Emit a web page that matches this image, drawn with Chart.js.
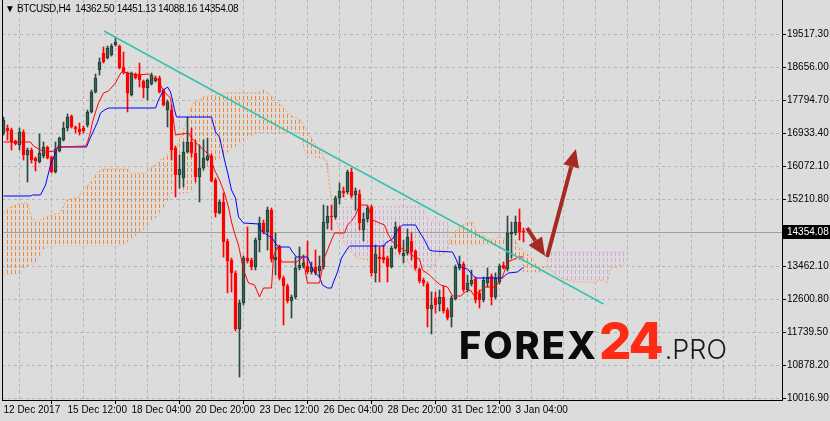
<!DOCTYPE html>
<html><head><meta charset="utf-8">
<script src="https://cdn.jsdelivr.net/npm/chart.js@4.4.0/dist/chart.umd.min.js"></script>
<style>
html,body{margin:0;padding:0;background:#DCDCDC;}
#wrap{position:relative;width:830px;height:421px;overflow:hidden;background:#DCDCDC;}
#c{position:absolute;left:0;top:0;}
#hdr{position:absolute;left:5px;top:3px;font:10px "Liberation Sans",Arial,sans-serif;letter-spacing:-0.35px;color:#000;white-space:pre;}
#logo{position:absolute;left:459px;top:315px;display:flex;align-items:baseline;white-space:nowrap;font-family:Inter,"Open Sans",sans-serif;line-height:1;}
#logo .f{font-size:38px;font-weight:800;color:#0c0c0c;letter-spacing:2px;}
#logo .n{font-size:51px;font-weight:800;color:#FF2B14;letter-spacing:-2px;margin-left:1px;}
#logo .p{font-size:27px;font-weight:300;color:#1a1a1a;margin-left:3px;}
</style></head>
<body>
<div id="wrap">
<canvas id="c" width="830" height="421"></canvas>
<div id="hdr"></div>
<div id="logo"><span class="f">FOREX</span><span class="n">24</span><span class="p">.PRO</span></div>
</div>
<script>
const symbolTitle = 'BTCUSD,H4';
const headerValues = [14362.50, 14451.13, 14088.16, 14354.08];
const tickLabels = ['12 Dec 2017','15 Dec 12:00','18 Dec 04:00','20 Dec 20:00','23 Dec 12:00','26 Dec 04:00','28 Dec 20:00','31 Dec 12:00','3 Jan 04:00'];
const priceTicks = [19517.30,18656.00,17794.70,16933.40,16072.10,15210.80,13462.10,12600.80,11739.50,10878.20,10016.90];
const lastClose = 14354.08;

const opens = [16934,17064,17012,16725,16620,16960,16359,16490,16281,16177,
16333,16568,16307,15916,16464,16751,17064,17377,17090,17038,
17064,17142,17482,18004,18578,19022,18891,18969,19230,19204,
18656,18500,17925,18474,18447,18291,18108,18213,18291,18369,
18056,17534,17534,16542,15837,15759,16438,16699,16412,15785,
16020,16229,16333,15707,14846,15133,14115,13619,13280,11818,
12497,13671,13619,13436,14141,14585,14350,14924,13619,13958,
13149,12940,12549,12653,13410,13462,13462,13306,13436,13332,
13436,14585,14767,14741,15237,15420,15394,15916,15316,15342,
14402,14689,15002,13280,13697,13697,13671,13436,13932,14454,
13723,13802,14115,13854,13384,13097,12992,12340,12627,12470,
12653,12314,12131,12601,13410,13515,12836,12992,13123,12758,
12575,13019,13201,12653,13045,13488,13384,14298,14324,14611,
14362.50];
const highs = [17351,17142,17064,16751,17064,17012,16542,16542,16307,16908,
16699,16594,16333,16699,16829,17221,17430,17404,17116,17195,
17116,17534,18056,18474,18891,19178,19204,19257,19439,19230,
19048,18526,18526,18500,18760,18317,18343,18500,18421,18421,
18082,17795,17664,16594,16359,16699,17351,17064,16751,16620,
16751,16803,16386,15759,15185,15368,14167,13671,13332,12575,
13723,14480,13671,14193,14741,14663,15002,14976,14324,14010,
13201,12992,12705,13697,13958,13749,14115,13567,13880,13723,
15054,15028,15054,15289,15629,15524,15968,16020,15498,15446,
14846,15028,15054,14010,13958,14010,13723,13984,14611,14506,
14141,14428,14324,13880,13410,13149,13045,12784,12784,12836,
12940,12366,12679,13488,13723,13567,13227,13358,13175,12836,
13175,13410,13254,13280,13515,13567,14767,14611,14767,14950,
14451.13];
const lows = [16881,16751,16490,16620,16490,16229,15655,16151,15942,16151,
16281,16255,15890,15890,16438,16725,16986,17064,16934,16881,
16934,17090,17456,17978,18447,18760,18865,18943,19204,18604,
18474,17482,17899,18343,18134,17847,17795,18186,18265,17978,
17638,17090,16229,15263,15498,15524,16412,16307,15655,15133,
15968,16203,15655,14741,14820,13697,12758,12784,11766,10565,
12444,13541,13358,13358,13828,14298,13880,13567,13227,13097,
11922,12497,12105,12601,13358,13410,13254,13254,13227,13175,
13384,14428,14402,14689,15081,15263,15342,15237,14924,14402,
14115,14611,13201,13045,13045,13541,13045,13410,13906,13776,
13541,13749,13619,13358,13019,12940,11870,11687,12235,12288,
12235,12053,11870,12575,13358,12784,12784,12940,12497,12366,
12523,12914,12444,12601,12992,13384,13332,13671,14272,14141,
14088.16];
const closes = [17273,16986,16699,16647,16960,16359,16490,16229,16203,16412,
16568,16281,15916,16516,16803,17064,17351,17090,17038,16960,
16986,17482,18004,18369,18787,18787,19152,19204,19309,18630,
18526,17978,18500,18369,18317,18108,18317,18447,18369,18004,
17664,17743,16490,15837,15994,16438,16699,16412,15785,16020,
16281,16333,15681,14846,15133,14089,13593,13280,11818,12497,
13671,13593,13436,14141,14585,14350,14924,13645,13697,13149,
12940,12549,12653,13410,13488,13541,13306,13436,13280,13462,
14611,14767,14741,15237,15420,15368,15916,15289,15420,14585,
14689,14976,13280,13776,13645,13619,13436,13932,14480,13828,
13802,14219,13828,13410,13071,13019,12340,12444,12444,12653,
12288,12105,12627,13436,13515,12836,13019,13097,12575,12575,
13097,13175,12653,13149,13462,13410,14324,14350,14611,14350,
14354.08];

// Ichimoku lines as [bar index, price] breakpoints
const tenkan = [[0,16699],[6.75,16699],[7.5,16594],[9.25,16490],[10.5,16438],[13,16464],[13.75,16568],[20.5,16594],[21,16699],[21.75,16960],[22.25,17221],[23,17482],[23.75,17717],[25,17978],[26.25,18030],[28,18239],[28.75,18395],[29.5,18526],[31.25,18500],[33,18447],[36.25,18474],[37.5,18369],[38.75,18317],[39.5,18134],[40.5,17978],[41.75,17847],[42,17664],[43,16881],[46.25,16934],[47,16803],[48.25,16673],[50,16490],[51.5,16359],[52.75,15968],[54,15707],[55.25,15368],[56.25,15002],[57,14611],[57.75,14324],[58.75,14010],[60,13358],[61.25,13019],[62.75,12967],[64,12653],[65,12888],[67,12888],[67.5,13723],[68.5,13958],[69.5,13567],[73.25,13567],[75,13697],[75.5,13280],[76,13019],[79,13019],[79.5,13280],[80,13619],[81,13880],[82,14141],[82.75,14324],[85.25,14324],[86,14533],[87,14637],[88,14793],[89,15054],[91,15054],[92.25,14663],[94,14585],[95.25,14533],[96,14324],[97.25,14089],[99,13958],[100.25,13880],[101.5,13802],[102.75,13697],[104,13645],[104.75,13358],[106.5,13227],[107.75,13097],[109.25,12967],[111,12914],[112.25,12679],[114.25,12679],[115.5,12784],[116.75,12836],[117.5,12705],[118.75,12784],[120.5,12914],[123,12914],[123.75,13045],[124.75,13175],[126,13567],[127.25,13619],[128.75,13697],[130,13697]];
const kijun = [[0,15289],[6.75,15289],[7.25,15316],[9.25,15316],[10.5,15577],[11.75,16099],[12.5,16281],[13.5,16568],[20.75,16568],[21.25,16699],[22.25,16934],[23.5,17221],[24.25,17456],[25.25,17534],[26.25,17586],[38,17586],[38.75,17795],[39.25,17899],[40,18056],[41,18134],[41.75,18004],[42.25,17795],[42.75,17534],[43.25,17351],[52,17351],[53,16960],[54,16829],[55.25,16229],[56,15916],[57,15446],[58,15237],[58.75,14741],[60,14585],[63.75,14559],[64.25,14402],[66.25,14245],[67,14219],[68.25,14010],[69,13958],[71.5,13958],[72.25,13828],[73.25,13697],[76,13697],[77,13436],[78,13280],[79,13175],[79.75,12967],[81,12888],[82,12888],[82.5,13045],[83.5,13306],[84.5,13671],[85.75,13880],[86.5,13984],[95.25,13984],[95.5,14063],[97.25,14167],[98.5,14402],[99.75,14533],[103,14533],[104,14350],[105.25,14141],[106.5,13880],[107.25,13854],[112.25,13828],[113,13671],[113.75,13488],[114.75,13410],[116,13384],[117.25,13227],[118,13149],[124.75,13149],[125.5,13227],[126.25,13280],[128.5,13306],[129.75,13410],[130,13410]];
const senkouA = [[0,14846],[1.75,15002],[3.5,15081],[6,15107],[7,14715],[8.5,14611],[10.5,14741],[14.25,14846],[15.75,15185],[18.75,15263],[20.25,15498],[21.75,15629],[23.5,15916],[24.75,15994],[31.25,15994],[31.75,15890],[35.75,15890],[36.75,16020],[38,16099],[39.25,16229],[40.5,16307],[41.75,16490],[43.25,16568],[45,17012],[46.75,17534],[47.5,17717],[50,17873],[55.75,17978],[63.25,17978],[65,18056],[66.75,17926],[71.75,17404],[74.25,17273],[78,16620],[79,16490],[80.75,16151],[82,15185],[82.75,14741],[84,14402],[85.25,14063],[86.5,13880],[88,13697],[92.25,13567],[95.5,13828],[97.25,13828],[99.75,13619],[101.25,13541],[103,13306],[104.75,13280],[106.5,13358],[108,13541],[109.25,13750],[111,13828],[111.25,14063],[112.25,14272],[113.75,14480],[116,14585],[117.25,14611],[118,14402],[119.75,14272],[121.75,14141],[123.75,14219],[126,14141],[128,14141],[128.75,13932],[130,13880],[131.25,13750],[132.5,13619],[133.75,13436],[136,13436],[137.5,13280],[139.25,13149],[141.75,13071],[144.25,13045],[147.5,13045],[149.75,13097],[151,13019],[151.75,13410],[153.5,13436],[155.5,13541]];
const senkouB = [[0,13254],[4.25,13254],[5.5,13436],[8.25,13567],[9.75,13880],[11.25,13984],[29.25,13984],[31.75,14141],[35.5,14454],[38,14715],[40.5,15054],[42,15368],[46.75,15368],[47.75,15524],[49.5,15890],[56.75,16490],[63.25,16934],[74.25,16934],[75.5,16359],[81,16229],[82.25,15002],[104.75,15028],[106.25,14663],[111,14611],[111.75,14010],[126,14010],[126.25,13619],[129.25,13619],[129.5,13306],[135.5,13306],[136.25,13828],[156,13828]];
const trendLine = [[25.1,19596],[150,12471]];
const arrows = [[130.9,14454,135.4,13723],[135.9,13697,143.1,16516]];

document.getElementById('hdr').textContent = '\u25BC ' + symbolTitle + '  ' + headerValues.map(v=>v.toFixed(2)).join(' ');

function makePattern(color){
  const p = document.createElement('canvas'); p.width = 4; p.height = 6;
  const g = p.getContext('2d'); g.fillStyle = color; g.fillRect(3,0,1,4);
  return document.getElementById('c').getContext('2d').createPattern(p,'repeat');
}
const patOrange = makePattern('#F08C38');
const patThistle = makePattern('#D2A8D2');
const pts = arr => arr.map(p=>({x:p[0], y:p[1]}));
const up = i => closes[i] >= opens[i];

Chart.defaults.font.family = '"Liberation Sans", Arial, sans-serif';
Chart.defaults.font.size = 10;
Chart.defaults.color = '#000';

const framePlugin = {
  id:'frame',
  beforeDatasetsDraw(c){
    const g=c.ctx, a=c.chartArea, y=Math.round(c.scales.y.getPixelForValue(lastClose))+0.5;
    g.save(); g.strokeStyle='#A0A0A0'; g.lineWidth=1; g.beginPath(); g.moveTo(a.left,y); g.lineTo(a.right,y); g.stroke(); g.restore();
  },
  afterDatasetsDraw(c){
    const g=c.ctx, sx=c.scales.x, sy=c.scales.y;
    g.save(); g.fillStyle=g.strokeStyle='#A52A22'; g.lineWidth=4; g.lineCap='butt';
    arrows.forEach(a=>{
      const x1=sx.getPixelForValue(a[0]), y1=sy.getPixelForValue(a[1]), x2=sx.getPixelForValue(a[2]), y2=sy.getPixelForValue(a[3]);
      const ang=Math.atan2(y2-y1,x2-x1), L=18, W=8;
      const bx=x2-L*Math.cos(ang), by=y2-L*Math.sin(ang);
      g.beginPath(); g.moveTo(x1,y1); g.lineTo(bx,by); g.stroke();
      g.beginPath(); g.moveTo(x2,y2); g.lineTo(bx+W*Math.sin(ang), by-W*Math.cos(ang)); g.lineTo(bx-W*Math.sin(ang), by+W*Math.cos(ang)); g.closePath(); g.fill();
    });
    g.restore();
  },
  afterDraw(c){
    const g=c.ctx, a=c.chartArea;
    g.save(); g.strokeStyle='#000'; g.lineWidth=1;
    g.beginPath(); g.moveTo(a.left+0.5,0); g.lineTo(a.left+0.5,a.bottom); g.stroke();
    const y=Math.round(c.scales.y.getPixelForValue(lastClose));
    g.fillStyle='#000'; g.fillRect(a.right+1,y-7,47,14);
    g.fillStyle='#fff'; g.font='10px "Liberation Sans", Arial, sans-serif'; g.textBaseline='middle'; g.textAlign='left';
    g.fillText(lastClose.toFixed(2), a.right+5, y+0.5);
    g.restore();
  }
};

new Chart(document.getElementById('c'), {
  data:{ datasets:[
    {type:'line', label:'trend', data:pts(trendLine), borderColor:'#36C2AE', borderWidth:1.6, pointRadius:0, order:0},
    {type:'line', label:'tenkan', data:pts(tenkan), borderColor:'#FF0000', borderWidth:1, pointRadius:0, order:1},
    {type:'line', label:'kijun', data:pts(kijun), borderColor:'#0000FF', borderWidth:1, pointRadius:0, order:1},
    {type:'bar', label:'body', data:opens.map((o,i)=>({x:i, y:[Math.min(o,closes[i]),Math.max(o,closes[i])]})),
      backgroundColor:c=>up(c.dataIndex)?'#356656':'#FF0000', borderColor:c=>up(c.dataIndex)?'#1E3A31':'#FF0000',
      borderWidth:1, borderSkipped:false, barThickness:3, grouped:false, minBarLength:1, order:2},
    {type:'bar', label:'wick', data:opens.map((o,i)=>({x:i, y:[lows[i],highs[i]]})),
      backgroundColor:c=>up(c.dataIndex)?'#2A4A40':'#FF0000', barThickness:1, grouped:false, order:3},
    {type:'line', label:'senkouA', data:pts(senkouA), borderColor:'#F4A460', borderDash:[2,2], borderWidth:1, pointRadius:0,
      fill:{target:6, above:patOrange, below:patThistle}, order:5},
    {type:'line', label:'senkouB', data:pts(senkouB), borderColor:'#D8BFD8', borderDash:[2,2], borderWidth:1, pointRadius:0, fill:false, order:6}
  ]},
  options:{
    responsive:false, animation:false, devicePixelRatio:1,
    layout:{padding:{left:2,top:0,right:0,bottom:0}},
    plugins:{legend:{display:false}, tooltip:{enabled:false}},
    scales:{
      x:{type:'linear', position:'bottom', min:-0.375, max:194.625, offset:false,
        afterBuildTicks:s=>{ const t=[]; for(let v=0; v<=192; v+=8) t.push({value:v}); s.ticks=t; },
        afterFit:s=>{ s.height=21; s.paddingLeft=0; s.paddingRight=0; },
        grid:{color:c=>(c.tick && c.tick.value===0)?'rgba(0,0,0,0)':'#B4B4B4', lineWidth:1, drawTicks:true, tickLength:4,
          tickColor:c=>(c.tick && c.tick.value%16===0 && c.tick.value/16 < tickLabels.length)?'#000':'rgba(0,0,0,0)'},
        border:{display:true, color:'#000', width:1, dash:[3,3]},
        ticks:{autoSkip:false, maxRotation:0, minRotation:0, align:'start', padding:0, color:'#000',
          callback:v=>(v%16===0 && tickLabels[v/16])?tickLabels[v/16]:''}
      },
      y:{type:'linear', position:'right', min:9965, max:20405,
        afterBuildTicks:s=>{ s.ticks=priceTicks.map(v=>({value:v})); },
        afterFit:s=>{ s.width=48; s.paddingTop=0; s.paddingBottom=0; },
        grid:{color:'#B4B4B4', lineWidth:1, drawTicks:true, tickLength:4, tickColor:'#000'},
        border:{display:true, color:'#000', width:1, dash:[3,3]},
        ticks:{padding:1, color:'#000', callback:v=>v.toFixed(2)}
      }
    }
  },
  plugins:[framePlugin]
});
</script>
</body></html>
